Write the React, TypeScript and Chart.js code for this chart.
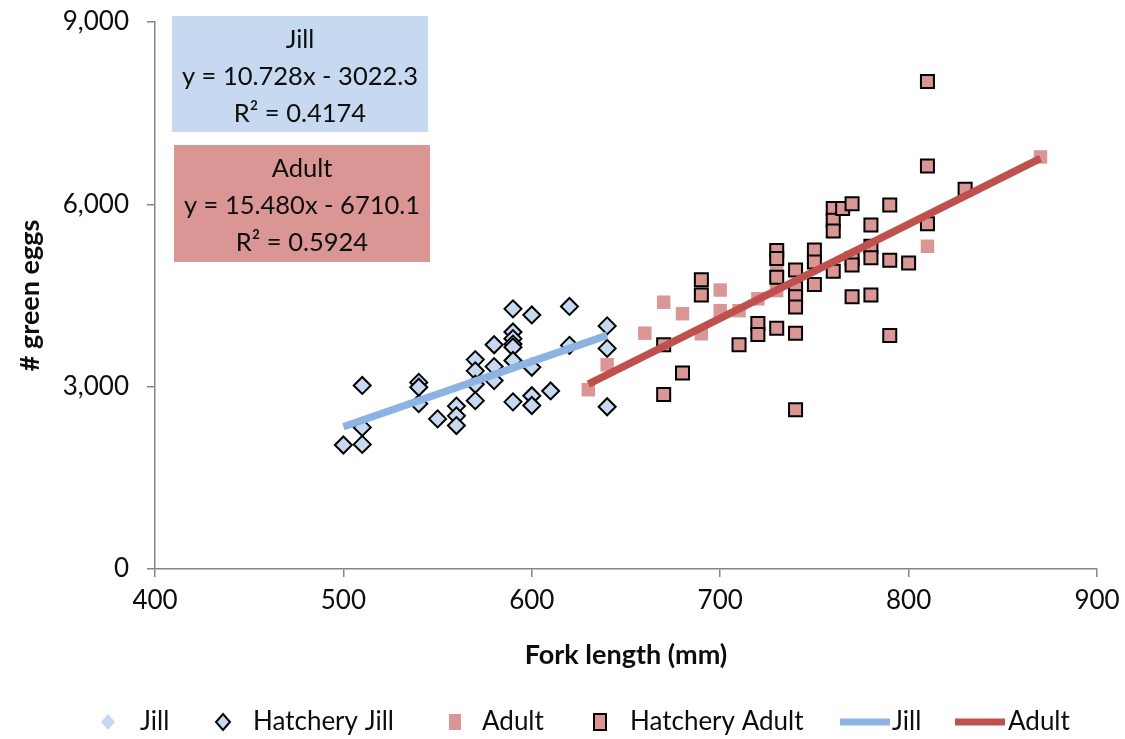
import React, { useEffect, useRef } from "react";
import { Chart, registerables } from "chart.js";

Chart.register(...registerables);

// ---- Data ----
const jillX: number[] = [];
const jillY: number[] = [];

const hatcheryJillX = [500, 510, 510, 510, 540, 540, 540, 550, 560, 560, 560, 570, 570, 570, 570, 580, 580, 580, 590, 590, 590, 590, 590, 590, 590, 600, 600, 600, 600, 610, 620, 620, 640, 640, 640];
const hatcheryJillY = [2040, 2050, 2330, 3020, 3070, 2990, 2720, 2470, 2680, 2520, 2360, 3445, 3260, 3040, 2770, 3690, 3330, 3100, 4280, 3900, 3790, 3700, 3650, 3430, 2750, 4180, 3320, 2850, 2690, 2930, 4320, 3680, 4000, 3630, 2670];

const adultX = [630, 640, 660, 670, 680, 690, 700, 700, 710, 720, 730, 730, 810, 870];
const adultY = [2950, 3360, 3880, 4390, 4200, 3870, 4590, 4250, 4250, 4445, 4580, 4940, 5310, 6780];

const hatcheryAdultX = [670, 670, 680, 690, 690, 710, 720, 720, 730, 730, 730, 730, 740, 740, 740, 740, 740, 740, 750, 750, 750, 760, 760, 760, 760, 765, 770, 770, 770, 770, 780, 780, 780, 780, 790, 790, 790, 800, 810, 810, 810, 830];
const hatcheryAdultY = [3690, 2870, 3225, 4760, 4510, 3690, 4040, 3860, 5240, 5110, 4800, 3960, 4920, 4620, 4480, 4310, 3880, 2620, 5250, 5050, 4680, 5930, 5740, 5560, 4900, 5930, 6010, 5100, 5000, 4480, 5660, 5310, 5120, 4510, 5990, 5080, 3840, 5035, 8020, 6630, 5680, 6250];

// Trendlines: y = slope * x + intercept
const jillTrend = { slope: 10.728, intercept: -3022.3, r2: "0.4174", xRange: [500, 640] };
const adultTrend = { slope: 15.48, intercept: -6710.1, r2: "0.5924", xRange: [630, 870] };

const xTicks = [400, 500, 600, 700, 800, 900];
const yTicks = [0, 3000, 6000, 9000];

const legendLabels = ["Jill", "Hatchery Jill", "Adult", "Hatchery Adult", "Jill", "Adult"];

// ---- Styles ----
const FONT = "Lato, 'Open Sans', sans-serif";
const JILL_FILL = "#c6d9f1";
const JILL_LINE = "#8db3e2";
const ADULT_FILL = "#da9694";
const ADULT_LINE = "#c0504d";
const AXIS = "#868686";
const TEXT = "#0d0d0d";

const pts = (xs: number[], ys: number[]) => xs.map((x, i) => ({ x, y: ys[i] }));
const trendPts = (t: { slope: number; intercept: number; xRange: number[] }) =>
  t.xRange.map((x) => ({ x, y: t.slope * x + t.intercept }));

const fmt = (n: number) => n.toLocaleString("en-US");

const overlayPlugin = {
  id: "overlay",
  afterDraw(chart: any) {
    const ctx = chart.ctx as CanvasRenderingContext2D;
    ctx.save();
    // Equation boxes
    const boxes = [
      { x: 172, y: 16, w: 256, h: 116, fill: JILL_FILL, lines: ["Jill", `y = ${jillTrend.slope.toFixed(3)}x - ${Math.abs(jillTrend.intercept).toFixed(1)}`, `R² = ${jillTrend.r2}`] },
      { x: 174, y: 145, w: 256, h: 117, fill: ADULT_FILL, lines: ["Adult", `y = ${adultTrend.slope.toFixed(3)}x - ${Math.abs(adultTrend.intercept).toFixed(1)}`, `R² = ${adultTrend.r2}`] },
    ];
    for (const b of boxes) {
      ctx.fillStyle = b.fill;
      ctx.fillRect(b.x, b.y, b.w, b.h);
      ctx.fillStyle = TEXT;
      ctx.font = `25.5px ${FONT}`;
      ctx.textAlign = "center";
      ctx.textBaseline = "middle";
      b.lines.forEach((l, i) => ctx.fillText(l, b.x + b.w / 2, b.y + 24 + i * 37));
    }

    // Legend
    const ly = 722;
    ctx.font = `26px ${FONT}`;
    ctx.textAlign = "left";
    ctx.textBaseline = "middle";
    const items = [
      { kind: "diamond", border: false, mx: 108, tx: 140 },
      { kind: "diamond", border: true, mx: 223, tx: 253 },
      { kind: "square", border: false, mx: 455, tx: 482 },
      { kind: "square", border: true, mx: 600, tx: 630 },
      { kind: "line", color: JILL_LINE, mx: 865, tx: 892 },
      { kind: "line", color: ADULT_LINE, mx: 980, tx: 1008 },
    ];
    items.forEach((it: any, i) => {
      if (it.kind === "diamond") {
        ctx.beginPath();
        ctx.moveTo(it.mx, ly - 8);
        ctx.lineTo(it.mx + 7, ly);
        ctx.lineTo(it.mx, ly + 8);
        ctx.lineTo(it.mx - 7, ly);
        ctx.closePath();
        ctx.fillStyle = JILL_FILL;
        ctx.fill();
        if (it.border) {
          ctx.lineWidth = 2;
          ctx.strokeStyle = "#000";
          ctx.stroke();
        }
      } else if (it.kind === "square") {
        ctx.fillStyle = ADULT_FILL;
        ctx.fillRect(it.mx - 6, ly - 8, 12, 16);
        if (it.border) {
          ctx.lineWidth = 2;
          ctx.strokeStyle = "#000";
          ctx.strokeRect(it.mx - 6, ly - 8, 12, 16);
        }
      } else {
        ctx.strokeStyle = it.color;
        ctx.lineWidth = 7;
        ctx.beginPath();
        ctx.moveTo(it.mx - 25, ly);
        ctx.lineTo(it.mx + 25, ly);
        ctx.stroke();
      }
      ctx.fillStyle = TEXT;
      ctx.fillText(legendLabels[i], it.tx, ly);
    });
    ctx.restore();
  },
};

export default function App() {
  const ref = useRef<HTMLCanvasElement | null>(null);
  useEffect(() => {
    document.body.style.margin = "0";
    if (!ref.current) return;
    const chart = new Chart(ref.current, {
      type: "scatter",
      data: {
        datasets: [
          {
            type: "line",
            label: "Adult",
            data: trendPts(adultTrend),
            borderColor: ADULT_LINE,
            borderWidth: 7.5,
            pointRadius: 0,
            showLine: true,
            order: 0,
          } as any,
          {
            type: "line",
            label: "Jill",
            data: trendPts(jillTrend),
            borderColor: JILL_LINE,
            borderWidth: 7.5,
            pointRadius: 0,
            showLine: true,
            order: 1,
          } as any,
          {
            label: "Hatchery Adult",
            data: pts(hatcheryAdultX, hatcheryAdultY),
            pointStyle: "rect",
            pointRadius: 9.2,
            backgroundColor: ADULT_FILL,
            borderColor: "#000",
            borderWidth: 2,
            order: 2,
          },
          {
            label: "Adult",
            data: pts(adultX, adultY),
            pointStyle: "rect",
            pointRadius: 9.5,
            backgroundColor: ADULT_FILL,
            borderWidth: 0,
            order: 3,
          },
          {
            label: "Hatchery Jill",
            data: pts(hatcheryJillX, hatcheryJillY),
            pointStyle: "rectRot",
            pointRadius: 8.5,
            backgroundColor: JILL_FILL,
            borderColor: "#000",
            borderWidth: 2,
            order: 4,
          },
          {
            label: "Jill",
            data: pts(jillX, jillY),
            pointStyle: "rectRot",
            pointRadius: 8.5,
            backgroundColor: JILL_FILL,
            borderWidth: 0,
            order: 5,
          },
        ],
      },
      options: {
        animation: false,
        responsive: true,
        maintainAspectRatio: false,
        layout: { padding: { top: 22, right: 28, left: 0, bottom: 0 } },
        plugins: { legend: { display: false }, tooltip: { enabled: false } },
        scales: {
          x: {
            type: "linear",
            min: 400,
            max: 900,
            afterBuildTicks: (s: any) => {
              s.ticks = xTicks.map((v) => ({ value: v }));
            },
            afterFit: (s: any) => {
              s.height = 739 - 569;
              s.paddingLeft = 0;
              s.paddingRight = 0;
            },
            ticks: { font: { family: FONT, size: 26 }, color: TEXT, padding: 8, maxRotation: 0 },
            grid: { drawOnChartArea: false, drawTicks: true, tickLength: 8, color: AXIS, lineWidth: 1.5 },
            border: { color: AXIS, width: 1.5 },
            title: {
              display: true,
              text: "Fork length (mm)",
              font: { family: FONT, size: 27, weight: "bold" },
              color: TEXT,
              padding: { top: 4, bottom: 68 },
            },
          },
          y: {
            type: "linear",
            min: 0,
            max: 9000,
            afterBuildTicks: (s: any) => {
              s.ticks = yTicks.map((v) => ({ value: v }));
            },
            afterFit: (s: any) => {
              s.width = 155;
              s.paddingTop = 0;
              s.paddingBottom = 0;
            },
            ticks: { font: { family: FONT, size: 26 }, color: TEXT, padding: 18, callback: (v: any) => fmt(Number(v)) },
            grid: { drawOnChartArea: false, drawTicks: true, tickLength: 8, color: AXIS, lineWidth: 1.5 },
            border: { color: AXIS, width: 1.5 },
            title: {
              display: true,
              text: "# green eggs",
              font: { family: FONT, size: 27, weight: "bold" },
              color: TEXT,
              padding: { top: 14, bottom: 0 },
            },
          },
        },
      },
      plugins: [overlayPlugin],
    });
    return () => chart.destroy();
  }, []);
  return (
    <div style={{ position: "absolute", left: 0, top: 0, width: 1125, height: 739 }}>
      <canvas ref={ref} />
    </div>
  );
}
